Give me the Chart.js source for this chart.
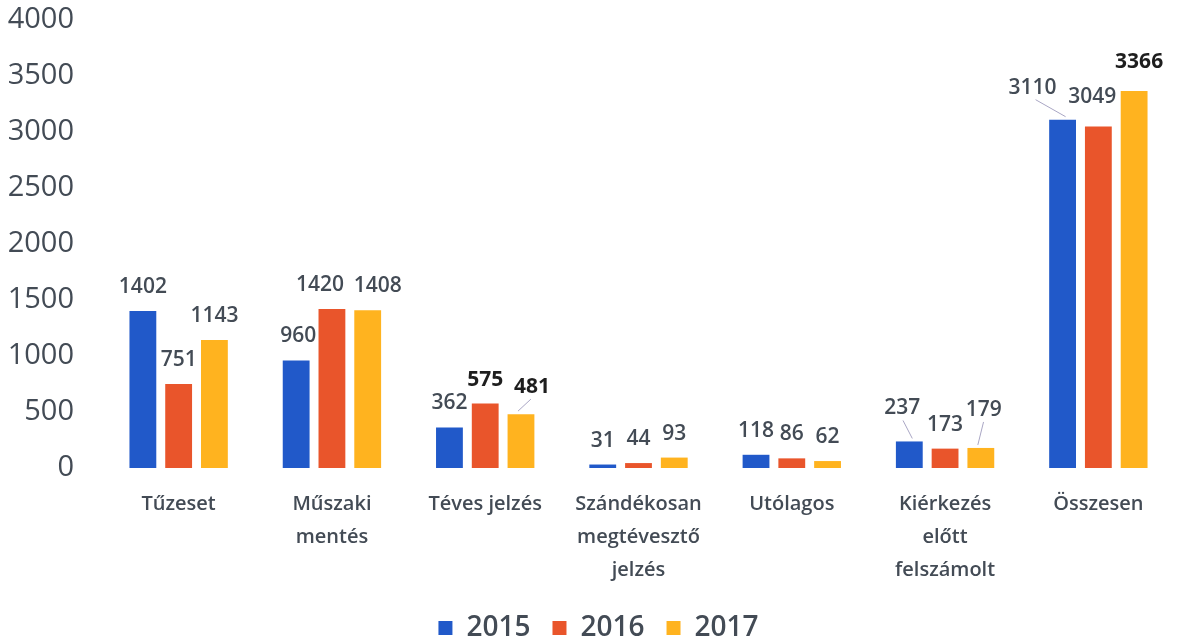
<!DOCTYPE html>
<html>
<head>
<meta charset="utf-8">
<script src="https://cdn.jsdelivr.net/npm/chart.js@4/dist/chart.umd.min.js"></script>
<style>
  html, body { margin: 0; padding: 0; background: #fff; }
  #wrap { width: 1200px; height: 643px; }
</style>
</head>
<body>
<div id="wrap"><canvas id="chart" width="1200" height="643"></canvas></div>
<script>
const categories = [
    'Tűzeset',
    ['Műszaki', 'mentés'],
    'Téves jelzés',
    ['Szándékosan', 'megtévesztő', 'jelzés'],
    'Utólagos',
    ['Kiérkezés', 'előtt', 'felszámolt'],
    'Összesen'
];
const years = ['2015', '2016', '2017'];
const values2015 = [1402, 960, 362, 31, 118, 237, 3110];
const values2016 = [751, 1420, 575, 44, 86, 173, 3049];
const values2017 = [1143, 1408, 481, 93, 62, 179, 3366];
const yTicks = [0, 500, 1000, 1500, 2000, 2500, 3000, 3500, 4000];

const colors = ['#2159c9', '#e9552b', '#ffb31f'];
const textGray = '#434b55';

// label nudges "dataset-category": [dx, dy, leaderLine, dark]
const nudges = {
    '0-1': [2, 0],
    '1-1': [-12, 0],
    '2-1': [10, 0],
    '1-2': [0, 0, false, true],
    '2-2': [11, -3, true, true],
    '0-5': [-7, -9, true],
    '2-5': [3, -14, true],
    '0-6': [-30, -8, true],
    '1-6': [-6, -5],
    '2-6': [5, -5, false, true]
};

const valueLabels = {
    id: 'valueLabels',
    afterDatasetsDraw(chart) {
        const ctx = chart.ctx;
        ctx.save();
        ctx.textAlign = 'center';
        ctx.textBaseline = 'middle';
        chart.data.datasets.forEach((ds, di) => {
            const meta = chart.getDatasetMeta(di);
            meta.data.forEach((bar, i) => {
                const n = nudges[di + '-' + i] || [0, 0];
                const lx = bar.x + n[0];
                const ly = bar.y - 24 + n[1];
                if (n[2]) {
                    ctx.strokeStyle = '#a9a6c4';
                    ctx.lineWidth = 1;
                    ctx.beginPath();
                    ctx.moveTo(lx + (bar.x - lx) * 0.1, ly + 12);
                    ctx.lineTo(bar.x - (n[0] !== 0 ? Math.sign(n[0]) * 3 : 0), bar.y - 3);
                    ctx.stroke();
                }
                ctx.fillStyle = n[3] ? '#1e1e1e' : textGray;
                ctx.font = (n[3] ? '700' : '600') + ' 21px "Open Sans"';
                ctx.fillText(String(ds.data[i]), lx, ly);
            });
        });
        ctx.restore();
    }
};

// nudge the legend a bit to the right, like in the original
const legendShift = {
    id: 'legendShift',
    afterLayout(chart) {
        chart.legend.left += 11;
        chart.legend.right += 11;
    }
};

new Chart(document.getElementById('chart'), {
    type: 'bar',
    data: {
        labels: categories,
        datasets: [
            { label: years[0], data: values2015, backgroundColor: colors[0] },
            { label: years[1], data: values2016, backgroundColor: colors[1] },
            { label: years[2], data: values2017, backgroundColor: colors[2] }
        ]
    },
    options: {
        responsive: false,
        animation: false,
        layout: { padding: { top: 20, right: 25, bottom: -9, left: 0 } },
        datasets: {
            bar: { barPercentage: 0.75, categoryPercentage: 0.7 }
        },
        plugins: {
            legend: {
                position: 'bottom',
                labels: {
                    boxWidth: 14,
                    boxHeight: 14,
                    padding: 22,
                    color: textGray,
                    font: { family: 'Open Sans', size: 28, weight: '600' }
                }
            },
            tooltip: { enabled: false }
        },
        scales: {
            x: {
                grid: { display: false },
                border: { display: false },
                ticks: {
                    color: textGray,
                    padding: 12,
                    maxRotation: 0,
                    autoSkip: false,
                    font: { family: 'Open Sans', size: 20, weight: '600', lineHeight: 1.65 }
                },
                afterFit(scale) {
                    scale.height = 124;
                    scale.paddingLeft = 0;
                    scale.paddingRight = 0;
                }
            },
            y: {
                min: 0,
                max: 4000,
                grid: { display: false },
                border: { display: false },
                afterBuildTicks(scale) { scale.ticks = yTicks.map(v => ({ value: v })); },
                ticks: {
                    color: textGray,
                    padding: 20,
                    font: { family: 'Open Sans', size: 29, weight: '500' },
                    callback: v => String(v)
                },
                afterFit(scale) {
                    scale.width = 102;
                    scale.paddingTop = 0;
                    scale.paddingBottom = 0;
                }
            }
        }
    },
    plugins: [valueLabels, legendShift]
});
</script>
</body>
</html>
